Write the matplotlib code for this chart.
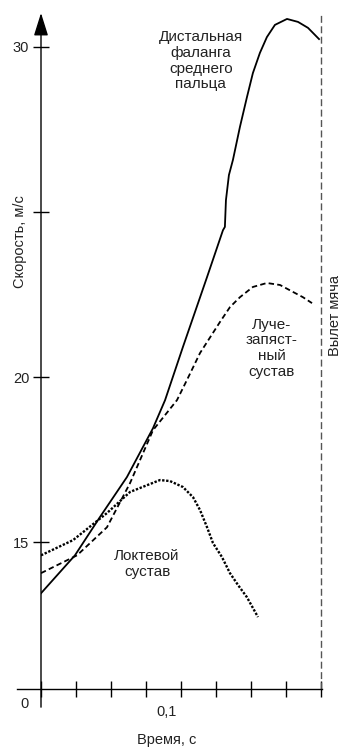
import numpy as np
import matplotlib
matplotlib.use("Agg")
import matplotlib.pyplot as plt

plt.rcParams['font.family'] = ['Liberation Sans', 'DejaVu Sans']

# Data: time (s) and speed (m/s)
finger_t = [0, 0.0194, 0.0337, 0.0491, 0.064, 0.0709, 0.0811, 0.0949, 0.104, 0.1051,
            0.1057, 0.1074, 0.1097, 0.1137, 0.1177, 0.1211, 0.1251, 0.1291, 0.1337,
            0.1406, 0.1469, 0.1526, 0.1589]
finger_v = [13.45, 14.6, 15.76, 16.97, 18.45, 19.3, 20.91, 23.03, 24.45, 24.55,
            25.36, 26.12, 26.58, 27.58, 28.48, 29.21, 29.82, 30.3, 30.67,
            30.85, 30.76, 30.58, 30.24]

wrist_t = [0, 0.0206, 0.0377, 0.0509, 0.064, 0.0777, 0.0834, 0.0909, 0.1023, 0.108,
           0.1137, 0.1211, 0.1291, 0.1366, 0.144, 0.1497, 0.1549]
wrist_v = [14.06, 14.6, 15.45, 16.79, 18.39, 19.3, 19.91, 20.73, 21.67, 22.12,
           22.42, 22.73, 22.85, 22.79, 22.58, 22.42, 22.24]

elbow_t = [0, 0.0183, 0.0377, 0.0509, 0.0623, 0.068, 0.0737, 0.0811, 0.0869, 0.0909,
           0.0949, 0.0983, 0.1034, 0.108, 0.1126, 0.1177, 0.124]
elbow_v = [14.6, 15.06, 15.88, 16.52, 16.76, 16.88, 16.85, 16.67, 16.36, 15.97,
           15.45, 14.97, 14.55, 14.06, 13.7, 13.33, 12.73]

release_t = 0.16
x_ticks = [0, 0.02, 0.04, 0.06, 0.08, 0.10, 0.12, 0.14, 0.16]
y_ticks = [15, 20, 25, 30]
y_tick_labels = ['15', '20', '', '30']

# broken y scale: bottom of the axis is labelled "0"
y_bottom = 10.55
y_top = 31.03

fig = plt.figure(figsize=(3.42, 7.47), dpi=100)
ax = fig.add_axes([41 / 342, 58 / 747, 281 / 342, 676 / 747])
ax.set_xlim(0, 0.1606)
ax.set_ylim(y_bottom, y_top)
for s in ax.spines.values():
    s.set_visible(False)

txt = '#222222'

# curves
ax.plot(finger_t, finger_v, color='black', lw=1.3, solid_joinstyle='round')
ax.plot(wrist_t, wrist_v, color='black', lw=1.3, dashes=(3, 1.8))
ax.plot(elbow_t, elbow_v, color='black', lw=1.7, dashes=(1.0, 0.7))

# ball release line
ax.plot([release_t, release_t], [y_bottom, y_top], color='#555555', lw=1, dashes=(5, 2.5),
        clip_on=False)

# axes lines
ax.plot([-0.0137, 0.1606], [y_bottom, y_bottom], color='black', lw=1, clip_on=False)
ax.annotate('', xy=(0, y_top), xytext=(0, 10.0), xycoords='data',
            arrowprops=dict(arrowstyle='-|>,head_length=0.7,head_width=0.22',
                            mutation_scale=20, color='black', lw=1, shrinkA=0, shrinkB=0),
            annotation_clip=False)

ax.set_xticks(x_ticks, [''] * len(x_ticks))
ax.set_yticks(y_ticks, y_tick_labels)
ax.tick_params(axis='both', direction='inout', length=11, width=1, color='black')
ax.tick_params(axis='y', labelsize=10.5, labelcolor=txt, pad=3)

# labels
ax.text(-0.0097, 10.09, '0', ha='center', va='center', fontsize=10.5, color=txt, clip_on=False)
ax.text(0.072, 9.85, '0,1', ha='center', va='center', fontsize=10.5, color=txt, clip_on=False)
ax.text(0.072, 9.0, 'Время, с', ha='center', va='center', fontsize=10.5, color=txt, clip_on=False)
ax.text(-0.012, 24.12, 'Скорость, м/с', ha='center', va='center', rotation=90,
        fontsize=10.5, color=txt, clip_on=False)
ax.text(0.168, 21.88, 'Вылет мяча', ha='center', va='center', rotation=90,
        fontsize=10.5, color=txt, clip_on=False)

ax.text(0.0914, 29.58, 'Дистальная\nфаланга\nсреднего\nпальца', ha='center', va='center',
        fontsize=11, color=txt, linespacing=1.15)
ax.text(0.132, 20.88, 'Луче-\nзапяст-\nный\nсустав', ha='center', va='center',
        fontsize=11, color=txt, linespacing=1.15)
ax.text(0.0606, 14.33, 'Локтевой\nсустав', ha='center', va='center',
        fontsize=11, color=txt, linespacing=1.15)

fig.savefig('out.png', dpi=100)
